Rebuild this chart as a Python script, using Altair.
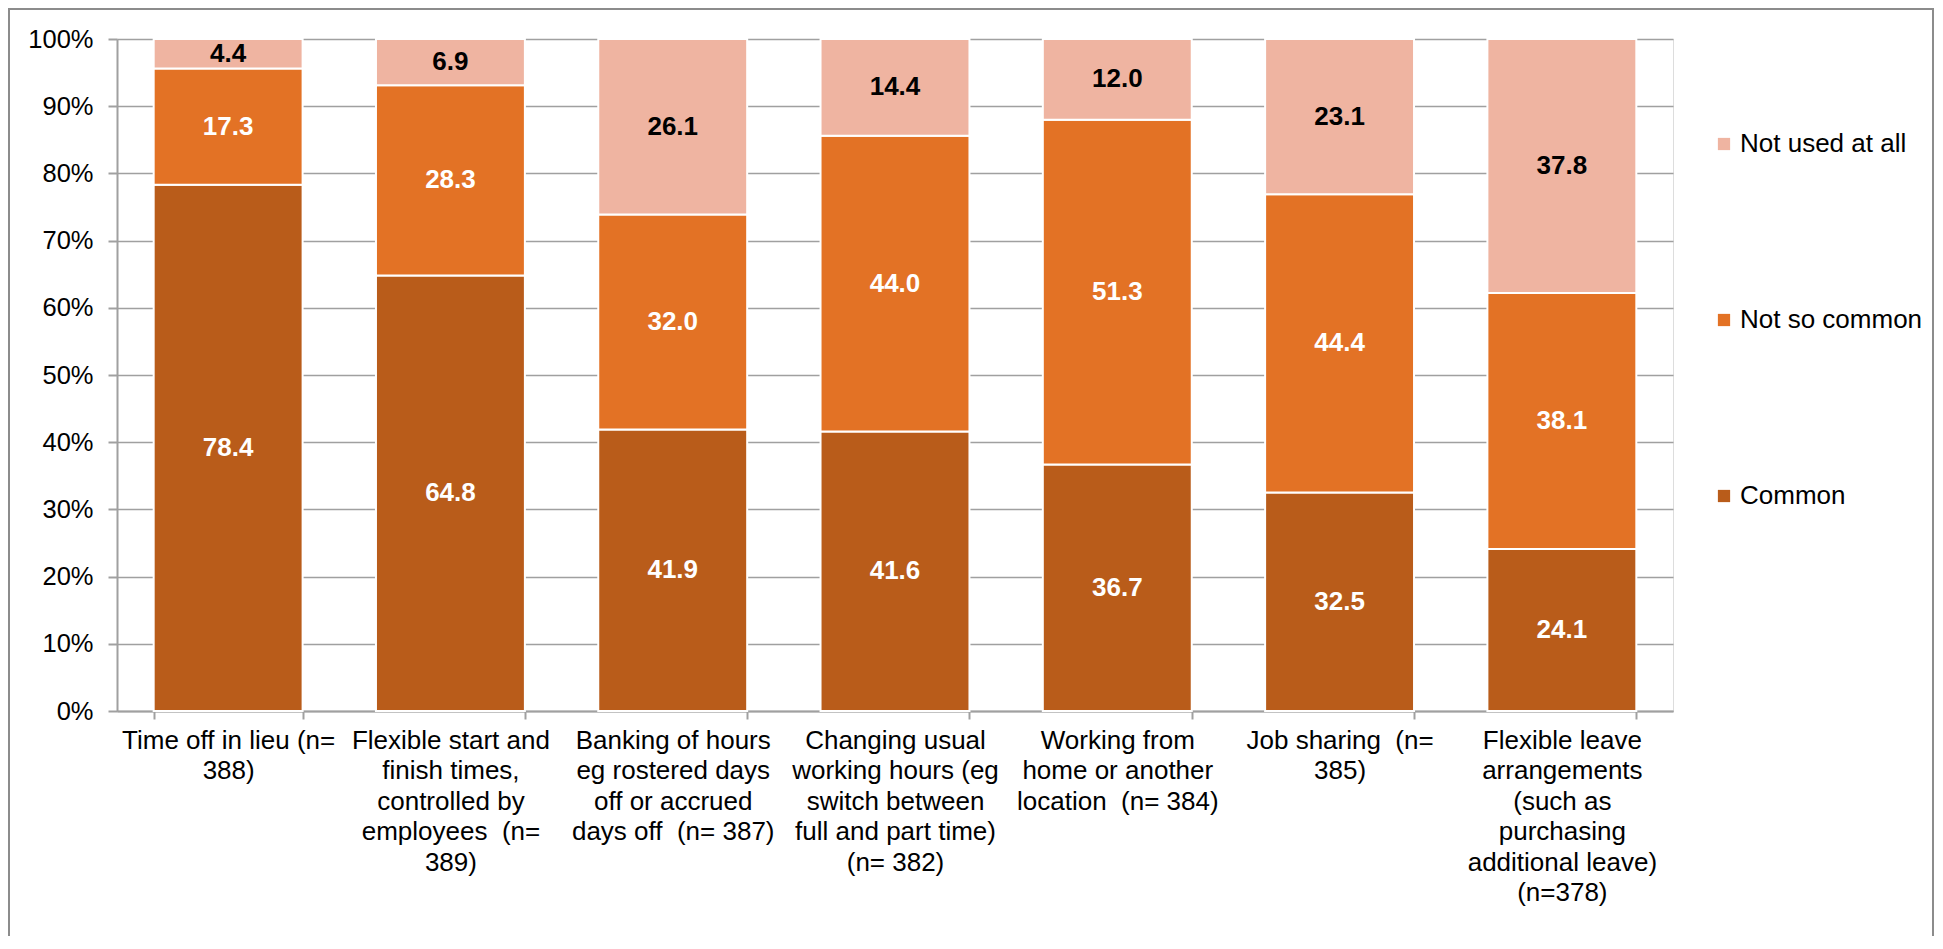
import altair as alt
import pandas as pd

categories = [
    "Time off in lieu (n=|388)",
    "Flexible start and|finish times,|controlled by|employees \u00a0(n=|389)",
    "Banking of hours|eg rostered days|off or accrued|days off \u00a0(n= 387)",
    "Changing usual|working hours (eg|switch between|full and part time)|(n= 382)",
    "Working from|home or another|location \u00a0(n= 384)",
    "Job sharing \u00a0(n=|385)",
    "Flexible leave|arrangements|(such as|purchasing|additional leave)|(n=378)",
]
series = ["Common", "Not so common", "Not used at all"]
common = [78.4, 64.8, 41.9, 41.6, 36.7, 32.5, 24.1]
not_so_common = [17.3, 28.3, 32.0, 44.0, 51.3, 44.4, 38.1]
not_used = [4.4, 6.9, 26.1, 14.4, 12.0, 23.1, 37.8]

rows = []
for s_i, (s, vals) in enumerate(zip(series, [common, not_so_common, not_used])):
    for c, v in zip(categories, vals):
        rows.append({"category": c, "series": s, "value": v, "ord": s_i,
                     "label": f"{v:.1f}"})
df = pd.DataFrame(rows)

FONT = "Liberation Sans"
legend_order = ["Not used at all", "Not so common", "Common"]
colors = ["#EFB4A1", "#E37225", "#B95C1A"]

base = alt.Chart(df).transform_stack(
    stack="value", groupby=["category"], as_=["y0", "y1"],
    offset="normalize", sort=[alt.SortField("ord", order="ascending")]
).transform_calculate(mid="(datum.y0 + datum.y1) / 2")

x_enc = alt.X("category:N", sort=categories, title=None,
              scale=alt.Scale(paddingInner=0.33, paddingOuter=0.165),
              axis=alt.Axis(labelExpr="split(datum.label, '|')", labelAngle=0,
                            labelFont=FONT, labelFontSize=26, labelColor="#000000",
                            labelLineHeight=30.5, labelPadding=8, labelLimit=400,
                            tickBand="extent", tickSize=8, tickColor="#A0A0A0",
                            tickWidth=2, domainColor="#A0A0A0", domainWidth=2,
                            grid=False, labelBaseline="top"))

bars = base.mark_bar(stroke="white", strokeWidth=2).encode(
    x=x_enc,
    y=alt.Y("y0:Q", title=None,
            scale=alt.Scale(domain=[0, 1], nice=False),
            axis=alt.Axis(format=".0%", values=[i / 10 for i in range(11)],
                          labelFont=FONT, labelFontSize=25.5, labelColor="#000000",
                          labelPadding=15, tickSize=9, tickColor="#A0A0A0",
                          tickWidth=2, domainColor="#A0A0A0", domainWidth=2,
                          grid=True, gridColor="#A0A0A0", gridWidth=1.5)),
    y2="y1:Q",
    color=alt.Color("series:N",
                    scale=alt.Scale(domain=legend_order, range=colors),
                    legend=alt.Legend(title=None, orient="none", legendX=1594,
                                      legendY=92, symbolType="square",
                                      symbolSize=150, symbolStrokeWidth=0,
                                      labelFont=FONT, labelFontSize=26,
                                      labelColor="#000000", rowPadding=150,
                                      labelOffset=3, labelLimit=0)),
    order=alt.Order("ord:Q"),
)

texts = base.mark_text(font=FONT, fontSize=26, fontWeight="bold").encode(
    x=alt.X("category:N", sort=categories),
    y=alt.Y("mid:Q"),
    text="label:N",
    color=alt.condition("datum.series == 'Not used at all'",
                        alt.value("#000000"), alt.value("#FFFFFF")),
)

frame = alt.Chart(alt.Data(values=[{"a": 1}])).mark_rect(
    filled=False, stroke="#8C8C8C", strokeWidth=2
).encode(
    x=alt.value(-108), x2=alt.value(1816),
    y=alt.value(-30), y2=alt.value(1000),
)

chart = alt.layer(frame, bars, texts).properties(
    width=1556, height=672,
    padding={"left": 109, "top": 31, "right": 261, "bottom": 225},
    autosize=alt.AutoSizeParams(type="none"),
).configure_view(stroke=None).configure(background="white")

chart.save("out.html", embed_options={"renderer": "svg", "actions": False})
